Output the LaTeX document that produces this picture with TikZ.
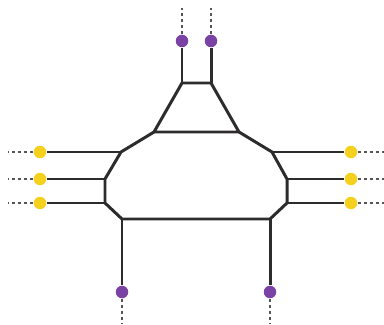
\documentclass[tikz,border=0pt]{standalone}
\usetikzlibrary{positioning}
\definecolor{wire}{HTML}{2D2B2C}
\definecolor{legcol}{HTML}{555555}
\definecolor{pdot}{HTML}{7A42A5}
\definecolor{ydot}{HTML}{F5D11E}
\tikzset{
  edge/.style={draw=wire, line width=1.7pt, line join=round},
  leg/.style={draw=legcol, line width=1.4pt, dash pattern=on 1.7pt off 1.8pt},
  extdot/.style={circle, inner sep=0pt, minimum size=0.25cm},
  pdotnode/.style={extdot, fill=pdot},
  ydotnode/.style={extdot, fill=ydot}
}
\begin{document}
\begin{tikzpicture}[x=0.02cm,y=-0.02cm]
        \useasboundingbox (0,0) rectangle (384,324);
        % inner vertices
        \coordinate (tl) at (182,83);
        \coordinate (tr) at (211,83);
        \coordinate (bl) at (154,132);
        \coordinate (br) at (239,132);
        \coordinate (l1) at (121,152);
        \coordinate (l2) at (105,179);
        \coordinate (l3) at (105,203);
        \coordinate (l4) at (122,219);
        \coordinate (r1) at (272,152);
        \coordinate (r2) at (287,179);
        \coordinate (r3) at (287,203);
        \coordinate (r4) at (270,219);
        % loose ends of the legs
        \coordinate (etl) at (182,8);
        \coordinate (etr) at (211,8);
        \coordinate (ebl) at (122,324);
        \coordinate (ebr) at (270,324);
        \coordinate (el1) at (8,152);
        \coordinate (el2) at (8,179);
        \coordinate (el3) at (8,203);
        \coordinate (er1) at (384,152);
        \coordinate (er2) at (384,179);
        \coordinate (er3) at (384,203);
        % the outer dots
        \node[pdotnode] (ptl) at (182,41) {};
        \node[pdotnode] (ptr) at (211,41) {};
        \node[pdotnode] (pbl) at (122,292) {};
        \node[pdotnode] (pbr) at (270,292) {};
        \node[ydotnode] (yl1) at (40,152) {};
        \node[ydotnode] (yl2) at (40,179) {};
        \node[ydotnode] (yl3) at (40,203) {};
        \node[ydotnode] (yr1) at (351,152) {};
        \node[ydotnode] (yr2) at (351,179) {};
        \node[ydotnode] (yr3) at (351,203) {};
        % body
        \draw[edge] (tl) -- (tr) -- (br) -- (bl) -- cycle;
        \draw[edge] (bl) -- (l1) -- (l2) -- (l3) -- (l4) -- (r4) -- (r3) -- (r2) -- (r1) -- (br);
        \draw[edge] (ptl) -- (tl);
        \draw[edge] (ptr) -- (tr);
        \draw[edge] (pbl) -- (l4);
        \draw[edge] (pbr) -- (r4);
        \draw[edge] (yl1) -- (l1);
        \draw[edge] (yl2) -- (l2);
        \draw[edge] (yl3) -- (l3);
        \draw[edge] (yr1) -- (r1);
        \draw[edge] (yr2) -- (r2);
        \draw[edge] (yr3) -- (r3);
        % legs
        \draw[leg] (ptl) -- (etl);
        \draw[leg] (ptr) -- (etr);
        \draw[leg] (pbl) -- (ebl);
        \draw[leg] (pbr) -- (ebr);
        \draw[leg] (yl1) -- (el1);
        \draw[leg] (yl2) -- (el2);
        \draw[leg] (yl3) -- (el3);
        \draw[leg] (yr1) -- (er1);
        \draw[leg] (yr2) -- (er2);
        \draw[leg] (yr3) -- (er3);
      \end{tikzpicture}
\end{document}
